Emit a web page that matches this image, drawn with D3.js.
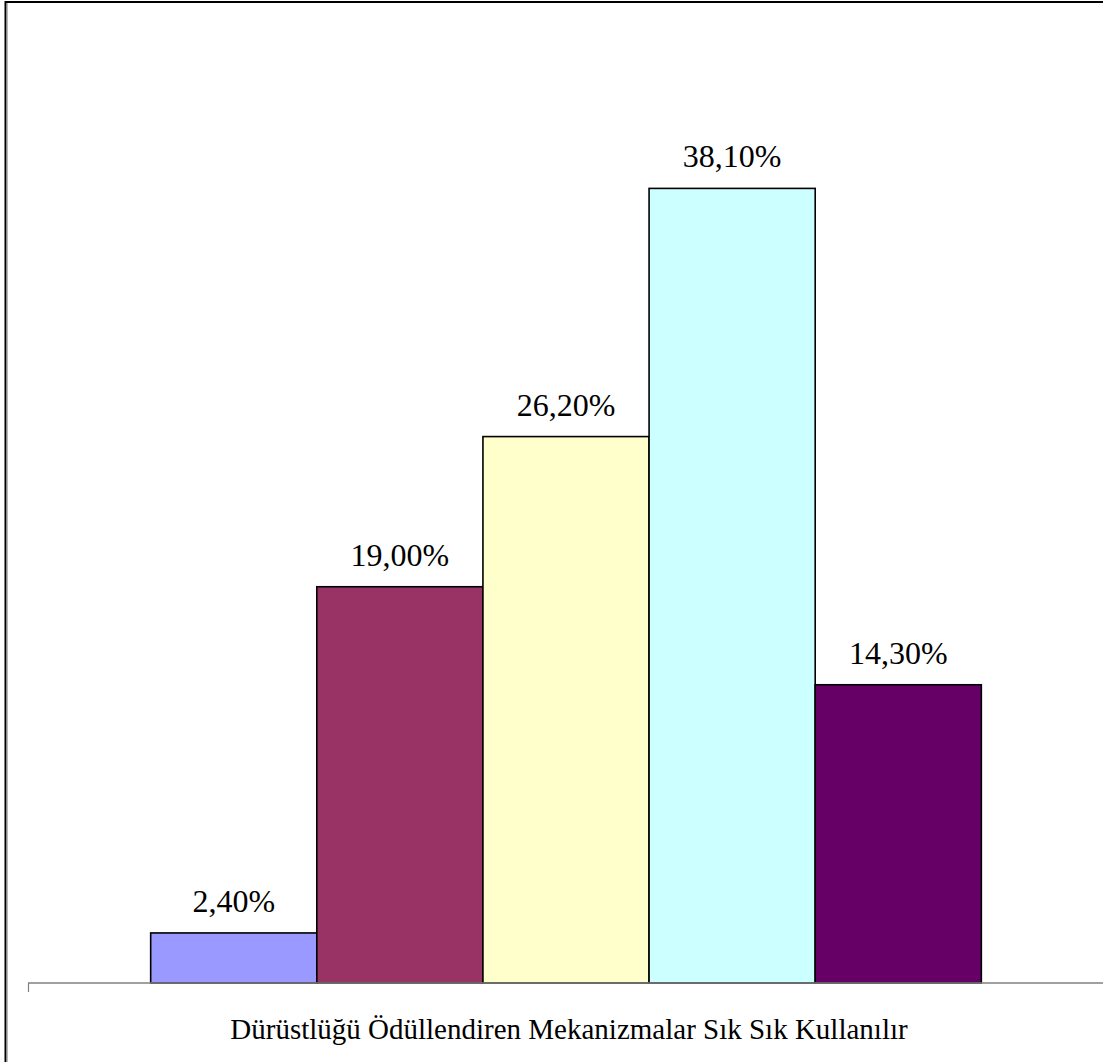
<!DOCTYPE html>
<html>
<head>
<meta charset="utf-8">
<script src="https://cdn.jsdelivr.net/npm/d3@7"></script>
<style>
  html, body { margin: 0; padding: 0; background: #fff; }
  svg { display: block; }
  .serif { font-family: "Liberation Serif", "Tinos", "Times New Roman", Times, "DejaVu Serif", serif; }
</style>
</head>
<body>
<svg id="chart" width="1103" height="1062"></svg>
<script>
// Survey item shown on the category axis
const categories = ["Dürüstlüğü Ödüllendiren Mekanizmalar Sık Sık Kullanılır"];
// One bar per response option, percentages of respondents
const seriesKeys = ["r1", "r2", "r3", "r4", "r5"];
const seriesValues = [2.4, 19.0, 26.2, 38.1, 14.3];
const seriesColors = ["#9999FF", "#993366", "#FFFFCC", "#CCFFFF", "#660066"];
const yDomain = [0, 45];

const svg = d3.select("#chart");
const W = 1103, H = 1062;
const plot = { left: 28, right: 1104, top: 44.5, bottom: 983 };

// Turkish number formatting: comma as decimal separator
const tr = d3.formatLocale({ decimal: ",", thousands: ".", grouping: [3], currency: ["", " TL"] });
const fmt = v => tr.format(".2f")(v) + "%";

const x0 = d3.scaleBand()
  .domain(categories)
  .range([plot.left, plot.right])
  .paddingInner(0.228)
  .paddingOuter(0.114);

const x1 = d3.scaleBand()
  .domain(seriesKeys)
  .range([0, x0.bandwidth()])
  .padding(0);

const y = d3.scaleLinear().domain(yDomain).range([plot.bottom, plot.top]);

const rows = seriesKeys.map((k, i) => ({ key: k, value: seriesValues[i], color: seriesColors[i] }));

// outer frame
svg.append("rect")
  .attr("x", 5.5).attr("y", 2)
  .attr("width", W + 20).attr("height", H + 20)
  .attr("fill", "none")
  .attr("stroke", "#000")
  .attr("stroke-width", 2);
svg.append("line")
  .attr("x1", 7.2).attr("x2", 7.2).attr("y1", 3).attr("y2", H)
  .attr("stroke", "#9a9a9a").attr("stroke-width", 1);

const g = svg.append("g").attr("transform", `translate(${x0(categories[0])},0)`);

// bars
g.selectAll("rect.bar")
  .data(rows)
  .join("rect")
  .attr("class", "bar")
  .attr("x", d => x1(d.key))
  .attr("y", d => y(d.value))
  .attr("width", x1.bandwidth())
  .attr("height", d => y(0) - y(d.value))
  .attr("fill", d => d.color)
  .attr("stroke", "#000")
  .attr("stroke-width", 1.6);

// value labels
g.selectAll("text.val")
  .data(rows)
  .join("text")
  .attr("class", "val serif")
  .attr("x", d => x1(d.key) + x1.bandwidth() / 2)
  .attr("y", d => y(d.value) - 21)
  .attr("text-anchor", "middle")
  .attr("font-size", 32)
  .attr("fill", "#000")
  .text(d => fmt(d.value));

// category axis
const xAxis = d3.axisBottom(d3.scaleLinear().domain([0, 1]).range([plot.left, plot.right]))
  .tickValues([0, 1])
  .tickSize(9)
  .tickFormat("");
const axisG = svg.append("g")
  .attr("transform", `translate(0,${plot.bottom})`)
  .call(xAxis);
axisG.select(".domain").attr("stroke", "#808080").attr("stroke-width", 1.6)
  .attr("d", `M${plot.left},0H${plot.right}`);
axisG.selectAll(".tick line").attr("stroke", "#808080").attr("stroke-width", 1.2);

// category label
svg.append("text")
  .attr("class", "serif")
  .attr("x", x0(categories[0]) + x0.bandwidth() / 2 + 3)
  .attr("y", 1039)
  .attr("text-anchor", "middle")
  .attr("font-size", 29)
  .attr("fill", "#000")
  .text(categories[0]);
</script>
</body>
</html>
